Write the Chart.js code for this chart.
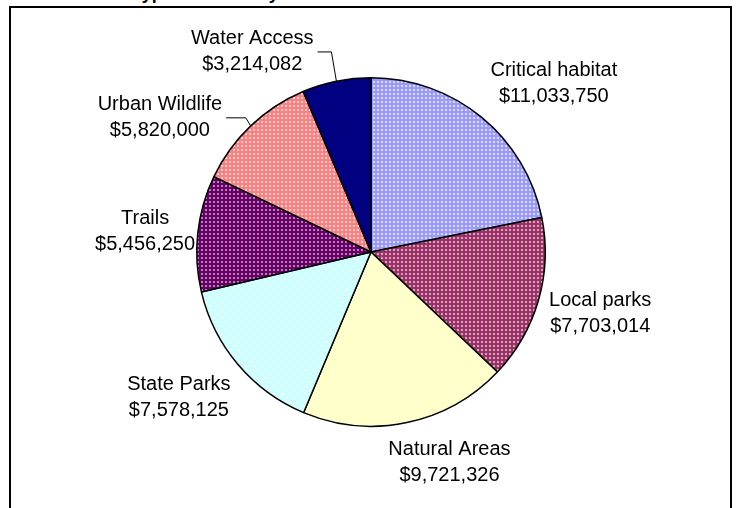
<!DOCTYPE html>
<html>
<head>
<meta charset="utf-8">
<script src="https://cdn.jsdelivr.net/npm/chart.js@4.4.1/dist/chart.umd.min.js"></script>
<style>
  html, body { margin: 0; padding: 0; background: #fff; overflow: hidden; }
  #wrap { position: relative; width: 738px; height: 508px; overflow: hidden; }
  #frame { position: absolute; left: 9px; top: 6px; width: 723px; height: 530px; box-sizing: border-box; border: 2px solid #000; }
  #title { position: absolute; left: 79px; top: -16px; font: bold 18px "Liberation Sans", Arial, sans-serif; line-height: 18px; white-space: nowrap; color: #000; }
  canvas { position: absolute; left: 0; top: 0; }
</style>
</head>
<body>
<div id="wrap">
  <div id="title">Grant Types Funded by WWRP</div>
  <div id="frame"></div>
  <canvas id="c" width="738" height="508"></canvas>
</div>
<script>
const categories = ['Critical habitat', 'Local parks', 'Natural Areas', 'State Parks', 'Trails', 'Urban Wildlife', 'Water Access'];
const values = [11033750, 7703014, 9721326, 7578125, 5456250, 5820000, 3214082];

// styling (not data)
const baseColors = ['#9999ff', '#993366', '#ffffcc', '#ccffff', '#660066', '#ff8080', '#000080'];
const dotColors  = ['#dcdcff', '#d9a0bf', null, '#ffffff', '#b580b5', '#ffd0d0', null];
const dotSpacing = [4, 4, 0, 8, 4, 4, 0];
const labelNudge = [[26, -6], [3, 3], [28, 5], [-12, 10], [7, 2], [-41, 18], [-70, 6]];
const hasLeader  = [false, false, false, false, false, true, true];

function makePattern(base, dot, sp) {
  if (!dot) return base;
  const c = document.createElement('canvas');
  c.width = sp; c.height = sp;
  const g = c.getContext('2d');
  g.fillStyle = base; g.fillRect(0, 0, sp, sp);
  g.fillStyle = dot;
  if (sp === 4) {
    g.fillRect(1, 1, 2, 2);
  } else {
    g.fillRect(1, 1, 2, 2);
    g.fillRect(5, 5, 2, 2);
  }
  return g.createPattern(c, 'repeat');
}
const fills = baseColors.map((b, i) => makePattern(b, dotColors[i], dotSpacing[i]));

const fmt = v => '$' + v.toLocaleString('en-US');

const labelPlugin = {
  id: 'outLabels',
  afterDatasetsDraw(chart) {
    const ctx = chart.ctx;
    const meta = chart.getDatasetMeta(0);
    const lineH = 26;
    ctx.save();
    ctx.font = '20px "Liberation Sans", Arial, sans-serif';
    ctx.fillStyle = '#000';
    ctx.textAlign = 'center';
    ctx.textBaseline = 'middle';
    meta.data.forEach((arc, i) => {
      const p = arc.getProps(['x', 'y', 'startAngle', 'endAngle', 'outerRadius'], true);
      const mid = (p.startAngle + p.endAngle) / 2;
      const dx = Math.cos(mid), dy = Math.sin(mid);
      const gap = 10;
      const px = p.x + dx * (p.outerRadius + gap);
      const py = p.y + dy * (p.outerRadius + gap);
      const l1 = categories[i], l2 = fmt(values[i]);
      const w = Math.max(ctx.measureText(l1).width, ctx.measureText(l2).width);
      const h = lineH * 2;
      const cx = px + dx * w / 2 + labelNudge[i][0];
      const cy = py + dy * h / 2 + labelNudge[i][1];
      ctx.fillText(l1, cx, cy - lineH / 2);
      ctx.fillText(l2, cx, cy + lineH / 2);
      if (hasLeader[i]) {
        const ex = p.x + dx * p.outerRadius, ey = p.y + dy * p.outerRadius;
        ctx.strokeStyle = '#000';
        ctx.lineWidth = 1;
        ctx.beginPath();
        const sx = cx + w / 2 + 4;
        if (ex - sx > 10) {
          ctx.moveTo(sx, cy);
          ctx.lineTo(ex - 5, cy);
          ctx.lineTo(ex, ey);
        } else {
          ctx.moveTo(Math.round(ex) - 2.5, cy - 6);
          ctx.lineTo(ex - 1, ey);
        }
        ctx.stroke();
      }
    });
    ctx.restore();
  }
};

new Chart(document.getElementById('c'), {
  type: 'pie',
  data: {
    labels: categories,
    datasets: [{
      data: values,
      backgroundColor: fills,
      borderColor: '#000',
      borderWidth: 1.5,
      borderAlign: 'center'
    }]
  },
  options: {
    responsive: false,
    animation: false,
    layout: { padding: { left: 196, right: 192, top: 77, bottom: 81 } },
    plugins: { legend: { display: false }, tooltip: { enabled: false }, title: { display: false } }
  },
  plugins: [labelPlugin]
});
</script>
</body>
</html>
